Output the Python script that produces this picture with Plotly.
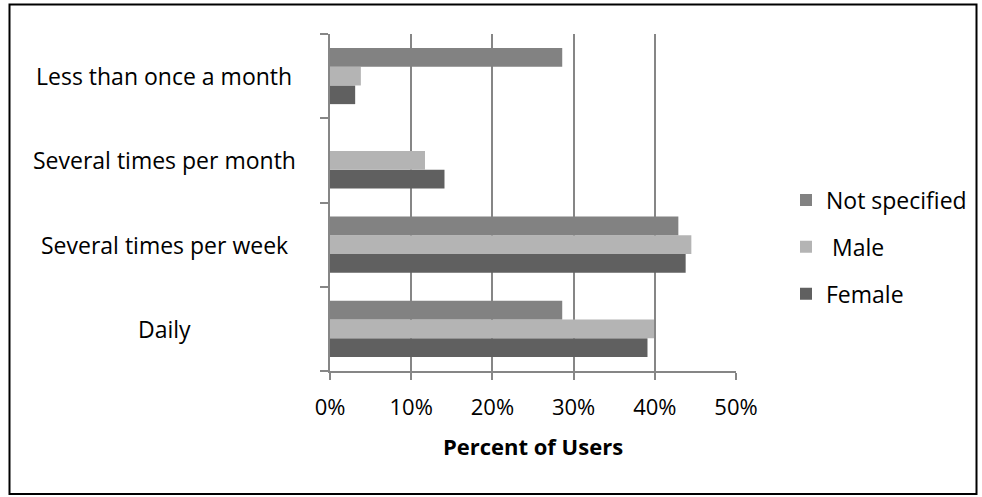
import plotly.graph_objects as go

categories = ["Daily", "Several times per week", "Several times per month", "Less than once a month"]
female = [39.1, 43.8, 14.1, 3.1]
male = [39.9, 44.5, 11.7, 3.8]
not_specified = [28.6, 42.9, 0.0, 28.6]
series_names = ["Female", " Male", "Not specified"]
series_colors = ["#606060", "#b4b4b4", "#828282"]
legend_ranks = [3, 2, 1]
x_ticks = [0, 10, 20, 30, 40, 50]
x_tick_labels = ["0%", "10%", "20%", "30%", "40%", "50%"]
x_title = "Percent of Users"

FONT = "Open Sans"
W, H = 982, 497
ML, MR, MT, MB = 330, 246, 34, 126
PW = W - ML - MR
PH = H - MT - MB

fig = go.Figure()
for name, vals, col, rk in zip(series_names, [female, male, not_specified], series_colors, legend_ranks):
    fig.add_trace(go.Bar(
        y=categories, x=vals, name=name, orientation="h",
        marker=dict(color=col, line=dict(width=0)),
        legendgroup=name, legendrank=rk,
    ))

for c in categories:
    fig.add_annotation(
        x=(164 - ML) / PW, xref="paper", y=c, yref="y",
        text=c, showarrow=False, xanchor="center", yanchor="middle",
        font=dict(family=FONT, size=23, color="#000000"),
    )

fig.add_shape(
    type="rect", xref="paper", yref="paper",
    x0=(9.5 - ML) / PW, x1=(976.5 - ML) / PW,
    y0=(H - MB - 494) / PH, y1=(H - MB - 4.5) / PH,
    line=dict(color="#000000", width=2), fillcolor="rgba(0,0,0,0)", layer="above",
)

fig.update_layout(
    width=W, height=H,
    margin=dict(l=ML, r=MR, t=MT, b=MB, autoexpand=False),
    paper_bgcolor="white", plot_bgcolor="white",
    barmode="group", bargap=0.335, bargroupgap=0,
    font=dict(family=FONT, size=22, color="#000000"),
    legend=dict(
        x=(786 - ML) / PW, xanchor="left", y=(H - MB - 247) / PH, yanchor="middle",
        traceorder="grouped", tracegroupgap=14,
        font=dict(family=FONT, size=23, color="#000000"),
        bgcolor="rgba(0,0,0,0)",
    ),
    xaxis=dict(
        range=[0, 50], tickvals=x_ticks, ticktext=x_tick_labels,
        showgrid=True, gridcolor="#868686", gridwidth=1.5,
        showline=True, linecolor="#868686", linewidth=1.5,
        ticks="outside", tickcolor="#868686", ticklen=7, tickwidth=1.5,
        ticklabelstandoff=9, zeroline=False,
        title=dict(text="<b>" + x_title + "</b>", standoff=19,
                   font=dict(family=FONT, size=22, color="#000000")),
        tickfont=dict(family=FONT, size=22, color="#000000"),
    ),
    yaxis=dict(
        showticklabels=False, showgrid=False, zeroline=False,
        showline=True, linecolor="#868686", linewidth=1.5,
        ticks="outside", tickson="boundaries", ticklen=8, tickcolor="#868686", tickwidth=1.5,
        categoryorder="array", categoryarray=categories,
    ),
)

fig.write_html("out.html", config={"displayModeBar": False},
               post_script="document.body.style.margin='0';document.body.style.overflow='hidden';")
